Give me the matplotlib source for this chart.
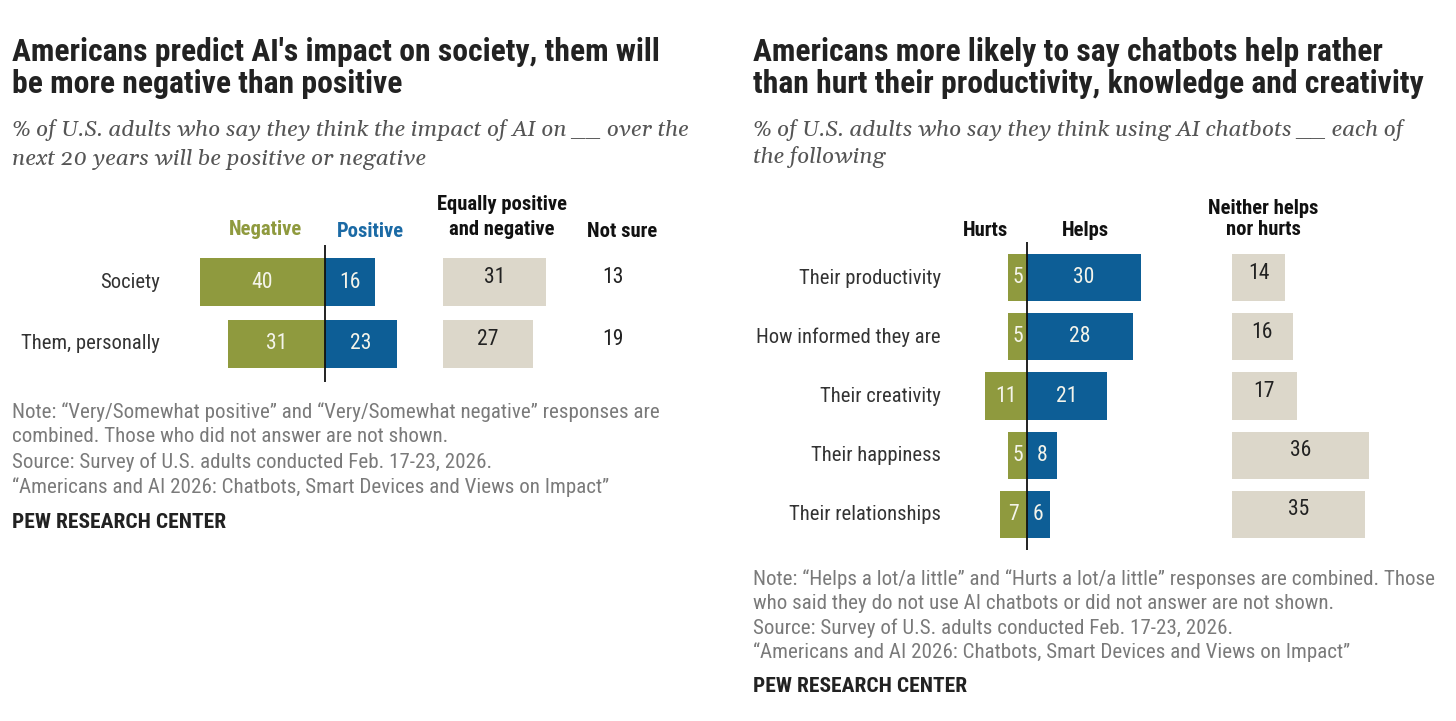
import matplotlib
matplotlib.use("Agg")
import matplotlib.pyplot as plt
from matplotlib import font_manager
from matplotlib.font_manager import FontProperties

# ---- data ----
left_rows = ["Society", "Them, personally"]
left_negative = [40, 31]
left_positive = [16, 23]
left_equally = [31, 27]
left_notsure = [13, 19]

right_rows = ["Their productivity", "How informed they are", "Their creativity",
              "Their happiness", "Their relationships"]
right_hurts = [5, 5, 11, 5, 7]
right_helps = [30, 28, 21, 8, 6]
right_neither = [14, 16, 17, 36, 35]

GREEN = "#8F9A3E"
BLUE = "#0D5E96"
BEIGE = "#DCD7CA"
GREY = "#7a7a7a"

installed = {f.name for f in font_manager.fontManager.ttflist}


def pick(prefs, fallback):
    for p in prefs:
        if p in installed:
            return [p, fallback]
    return [fallback]


SANS = pick(["Roboto Condensed", "Archivo Narrow", "Fira Sans Condensed", "PT Sans Narrow",
             "IBM Plex Sans Condensed", "Barlow Semi Condensed", "Liberation Sans Narrow"],
            "DejaVu Sans")
plt.rcParams["font.family"] = SANS

# italic serif face for the subtitles, taken straight from its file
ital_path = None
for name in ["Gelasio", "Liberation Serif", "DejaVu Serif"]:
    cands = [f for f in font_manager.fontManager.ttflist
             if f.name == name and f.style == "italic" and f.weight in (400, "normal", "regular")]
    if cands:
        ital_path = cands[0].fname
        break


def serif_it(size):
    if ital_path:
        return FontProperties(fname=ital_path, size=size)
    return FontProperties(family="DejaVu Serif", style="italic", size=size)


W, H = 1456, 721
fig = plt.figure(figsize=(W / 100, H / 100), dpi=100)
fig.patch.set_facecolor("white")
renderer = fig.canvas.get_renderer()


def fit(s, target_px, **kw):
    # font size that makes s about target_px wide
    t = fig.text(0, 0, s, **kw)
    if "fontproperties" not in kw:
        t.set_fontsize(10)
    w = t.get_window_extent(renderer).width
    t.remove()
    return 10 * target_px / w


TITLE = fit("Americans predict AI's impact on society, them will", 648, fontweight="bold")
SUB = fit("% of U.S. adults who say they think the impact of AI on __ over the", 678,
          fontproperties=serif_it(10))
NOTE = fit("Note: \u201cVery/Somewhat positive\u201d and \u201cVery/Somewhat negative\u201d responses are", 644)
LAB = fit("Them, personally", 138)
HEAD = fit("Equally positive", 131, fontweight="bold")
PEW = fit("PEW RESEARCH CENTER", 212, fontweight="bold")


def px_axes(x0, y0, x1, y1):
    # pixel box (top-left origin) -> axes
    ax = fig.add_axes([x0 / W, 1 - y1 / H, (x1 - x0) / W, (y1 - y0) / H])
    ax.set_axis_off()
    return ax


def ftext(x, y, s, **kw):
    fig.text(x / W, 1 - y / H, s, **kw)


# ---------------- left panel ----------------
ftext(12, 52, "Americans predict AI's impact on society, them will", fontsize=TITLE,
      fontweight="bold", color="#222222", va="center")
ftext(12, 84, "be more negative than positive", fontsize=TITLE,
      fontweight="bold", color="#222222", va="center")
ftext(12, 130, "% of U.S. adults who say they think the impact of AI on __ over the",
      fontproperties=serif_it(SUB), color="#555555", va="center")
ftext(12, 159, "next 20 years will be positive or negative",
      fontproperties=serif_it(SUB), color="#555555", va="center")

ftext(266, 229, "Negative", fontsize=HEAD, fontweight="bold", color=GREEN, ha="center", va="center")
ftext(370, 231, "Positive", fontsize=HEAD, fontweight="bold", color="#1B6AA5", ha="center", va="center")
ftext(502, 205, "Equally positive", fontsize=HEAD, fontweight="bold", color="#111111", ha="center", va="center")
ftext(502, 229, "and negative", fontsize=HEAD, fontweight="bold", color="#111111", ha="center", va="center")
ftext(622, 231, "Not sure", fontsize=HEAD, fontweight="bold", color="#111111", ha="center", va="center")

sc_l = 3.125
axL = px_axes(180, 245, 420, 382)
axL.set_xlim(-(325 - 180) / sc_l, (420 - 325) / sc_l)
ys = list(range(len(left_rows)))
axL.set_ylim(1.613, -0.597)
hb = 48 / 62
axL.barh(ys, [-v for v in left_negative], height=hb, color=GREEN)
axL.barh(ys, left_positive, height=hb, color=BLUE)
axL.axvline(0, color="#111111", lw=1.3)
for y, n, p, lab in zip(ys, left_negative, left_positive, left_rows):
    axL.text(-n / 2, y, str(n), ha="center", va="center", color="#f4f4ea", fontsize=LAB * 1.05)
    axL.text(p / 2, y, str(p), ha="center", va="center", color="#f4f4ea", fontsize=LAB * 1.05)
    axL.text(-(325 - 160) / sc_l, y, lab, ha="right", va="center", color="#333333", fontsize=LAB)

sc_e = 3.33
axE = px_axes(443, 245, 660, 382)
axE.set_xlim(0, (660 - 443) / sc_e)
axE.set_ylim(1.613, -0.597)
axE.barh(ys, left_equally, height=hb, color=BEIGE)
for y, e, ns in zip(ys, left_equally, left_notsure):
    axE.text(e / 2, y - 0.07, str(e), ha="center", va="center", color="#222222", fontsize=LAB * 1.05)
    axE.text((613 - 443) / sc_e, y - 0.07, str(ns), ha="center", va="center", color="#222222", fontsize=LAB * 1.05)

notesL = ["Note: \u201cVery/Somewhat positive\u201d and \u201cVery/Somewhat negative\u201d responses are",
          "combined. Those who did not answer are not shown.",
          "Source: Survey of U.S. adults conducted Feb. 17-23, 2026.",
          "\u201cAmericans and AI 2026: Chatbots, Smart Devices and Views on Impact\u201d"]
for i, line in enumerate(notesL):
    ftext(12, 412 + 25 * i, line, fontsize=NOTE, color=GREY, va="center")
ftext(12, 523, "PEW RESEARCH CENTER", fontsize=PEW, fontweight="bold", color="#222222", va="center")

# ---------------- right panel ----------------
ftext(753, 52, "Americans more likely to say chatbots help rather", fontsize=TITLE,
      fontweight="bold", color="#222222", va="center")
ftext(753, 84, "than hurt their productivity, knowledge and creativity", fontsize=TITLE,
      fontweight="bold", color="#222222", va="center")
ftext(753, 130, "% of U.S. adults who say they think using AI chatbots __ each of",
      fontproperties=serif_it(SUB), color="#555555", va="center")
ftext(753, 157, "the following",
      fontproperties=serif_it(SUB), color="#555555", va="center")

ftext(986, 230, "Hurts", fontsize=HEAD, fontweight="bold", color="#111111", ha="center", va="center")
ftext(1085, 230, "Helps", fontsize=HEAD, fontweight="bold", color="#111111", ha="center", va="center")
ftext(1263, 208, "Neither helps", fontsize=HEAD, fontweight="bold", color="#111111", ha="center", va="center")
ftext(1263, 229, "nor hurts", fontsize=HEAD, fontweight="bold", color="#111111", ha="center", va="center")

sc_r = 3.8
axR = px_axes(940, 242, 1160, 550)
axR.set_xlim(-(1027 - 940) / sc_r, (1160 - 1027) / sc_r)
yr = list(range(len(right_rows)))
axR.set_ylim(4.61, -0.61)
hr = 47 / 59
axR.barh(yr, [-v for v in right_hurts], height=hr, color=GREEN)
axR.barh(yr, right_helps, height=hr, color=BLUE)
axR.axvline(0, color="#111111", lw=1.3)
for y, hu, he, lab in zip(yr, right_hurts, right_helps, right_rows):
    axR.text(-hu / 2, y, str(hu), ha="center", va="center", color="#f4f4ea", fontsize=LAB * 1.05)
    axR.text(he / 2, y, str(he), ha="center", va="center", color="#f4f4ea", fontsize=LAB * 1.05)
    ftext(941, 278 + 59 * y, lab, ha="right", va="center", color="#333333", fontsize=LAB)

axN = px_axes(1232, 242, 1420, 550)
axN.set_xlim(0, (1420 - 1232) / sc_r)
axN.set_ylim(4.61, -0.61)
axN.barh(yr, right_neither, height=hr, color=BEIGE)
for y, nv in zip(yr, right_neither):
    axN.text(nv / 2, y - 0.07, str(nv), ha="center", va="center", color="#222222", fontsize=LAB * 1.05)

notesR = ["Note: \u201cHelps a lot/a little\u201d and \u201cHurts a lot/a little\u201d responses are combined. Those",
          "who said they do not use AI chatbots or did not answer are not shown.",
          "Source: Survey of U.S. adults conducted Feb. 17-23, 2026.",
          "\u201cAmericans and AI 2026: Chatbots, Smart Devices and Views on Impact\u201d"]
for i, line in enumerate(notesR):
    ftext(753, 579 + 24.5 * i, line, fontsize=NOTE, color=GREY, va="center")
ftext(753, 687, "PEW RESEARCH CENTER", fontsize=PEW, fontweight="bold", color="#222222", va="center")

fig.savefig("out.png", dpi=100)
